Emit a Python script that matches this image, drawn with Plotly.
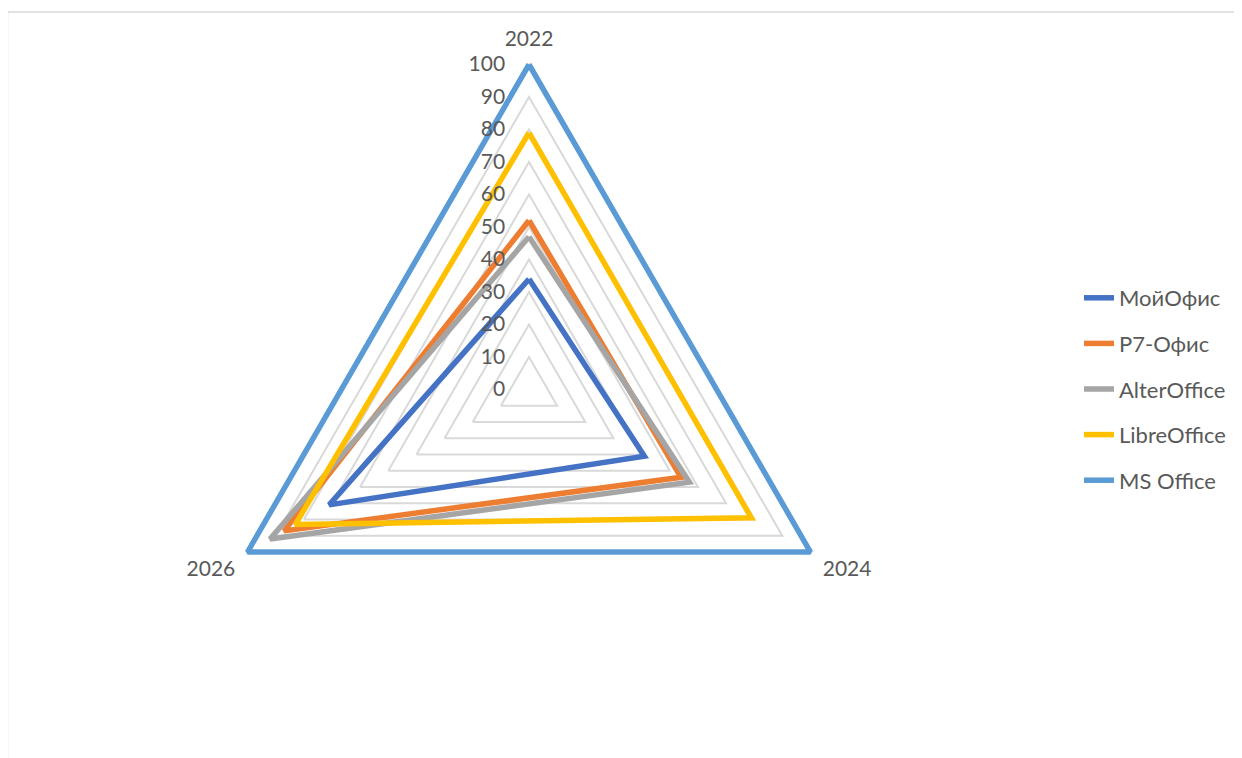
import plotly.graph_objects as go

years = ["2022", "2024", "2026"]
series_names = ["МойОфис", "Р7-Офис", "AlterOffice", "LibreOffice", "MS Office"]
moi_ofis = [34, 41, 71]
r7_ofis = [52, 54, 87]
alter_office = [47, 57, 92]
libre_office = [79, 79, 83]
ms_office = [100, 100, 100]
radial_ticks = [0, 10, 20, 30, 40, 50, 60, 70, 80, 90, 100]

colors = ["#4472C4", "#ED7D31", "#A5A5A5", "#FFC000", "#5B9BD5"]
all_values = [moi_ofis, r7_ofis, alter_office, libre_office, ms_office]

W, H = 1242, 758
OFF = 8  # page body margin
RMAX = 102  # a bit of headroom so the 100-line is not clipped
cx, cy = 529 - OFF, 389.5 - OFF
R = 325 * RMAX / 100

fig = go.Figure()
for i, (name, vals, col) in enumerate(zip(series_names, all_values, colors)):
    fig.add_trace(go.Scatterpolar(
        r=vals + vals[:1],
        theta=years + years[:1],
        mode="lines",
        name=name,
        legendgroup=f"g{i}",
        line=dict(color=col, width=5.5),
        cliponaxis=False,
        hoverinfo="name+r+theta",
    ))

font_color = "#595959"
font_family = "Lato, Liberation Sans, sans-serif"
fig.update_layout(
    width=W, height=H,
    margin=dict(l=0, r=0, t=0, b=0),
    paper_bgcolor="white",
    plot_bgcolor="white",
    font=dict(family=font_family, size=21, color=font_color),
    polar=dict(
        domain=dict(x=[(cx - R) / W, (cx + R) / W], y=[1 - (cy + R) / H, 1 - (cy - R) / H]),
        gridshape="linear",
        bgcolor="white",
        radialaxis=dict(
            range=[0, RMAX],
            tickvals=radial_ticks,
            ticktext=[str(t) for t in radial_ticks],
            angle=90,
            tickangle=90,
            side="counterclockwise",
            showline=False,
            gridcolor="#d9d9d9",
            gridwidth=1.5,
            ticks="outside",
            ticklen=16,
            tickcolor="rgba(0,0,0,0)",
            tickfont=dict(size=21, color=font_color, family=font_family),
        ),
        angularaxis=dict(
            type="category",
            categoryarray=years,
            rotation=90,
            direction="clockwise",
            showgrid=False,
            showline=False,
            ticks="outside",
            ticklen=3,
            tickcolor="rgba(0,0,0,0)",
            tickfont=dict(size=21, color=font_color, family=font_family),
        ),
    ),
    legend=dict(
        x=1071 / W, xanchor="left",
        y=1 - (389 - OFF) / H, yanchor="middle",
        tracegroupgap=14,
        font=dict(size=22, color=font_color, family=font_family),
        bgcolor="rgba(0,0,0,0)",
    ),
    shapes=[dict(
        type="rect", xref="paper", yref="paper",
        x0=-0.5 / W, x1=1.02, y0=-0.05, y1=1 - 4 / H,
        line=dict(color="#d9d9d9", width=1.5),
        fillcolor="rgba(0,0,0,0)",
        layer="below",
    )],
)

fig.write_html("out.html")
